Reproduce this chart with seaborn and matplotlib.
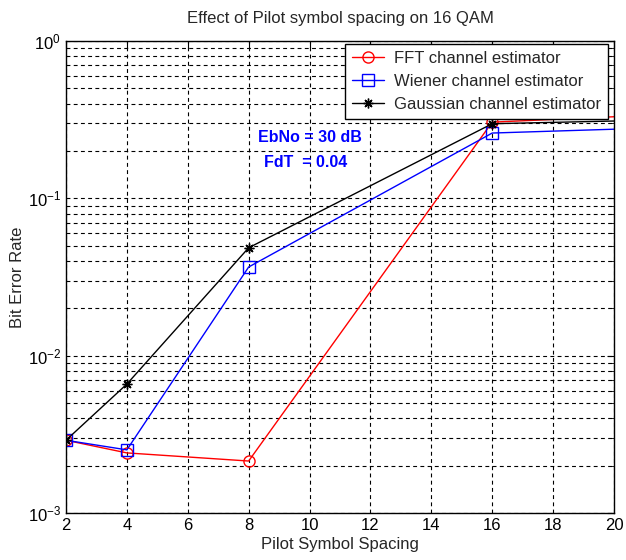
import matplotlib
matplotlib.use("Agg")
import matplotlib.pyplot as plt
import seaborn as sns
import pandas as pd
from matplotlib.ticker import LogLocator, FixedLocator

spacing = [2, 4, 8, 16, 20]
ber_fft = [2.9e-3, 2.41e-3, 2.14e-3, 0.305, 0.33]
ber_wiener = [2.9e-3, 2.52e-3, 0.0366, 0.26, 0.275]
ber_gauss = [2.9e-3, 6.6e-3, 0.0485, 0.298, 0.31]
series_names = ["FFT channel estimator", "Wiener channel estimator",
                "Gaussian channel estimator"]
x_ticks = [2, 4, 6, 8, 10, 12, 14, 16, 18, 20]

sns.set_style("white")
plt.rcParams["font.family"] = ["Liberation Sans", "DejaVu Sans"]
plt.rcParams["mathtext.fontset"] = "custom"
plt.rcParams["mathtext.rm"] = "Liberation Sans"

fig = plt.figure(figsize=(6.26, 5.6), dpi=100)
ax = fig.add_axes([0.1054, 0.0839, 0.8754, 0.8429])

styles = [
    (ber_fft, "red", "o", 8, "none"),
    (ber_wiener, "blue", "s", 8, "none"),
    (ber_gauss, "black", (8, 2, 0), 7, "black"),
]
for name, (vals, color, marker, ms, face) in zip(series_names, styles):
    df = pd.DataFrame({"x": spacing, "y": vals})
    sns.lineplot(data=df, x="x", y="y", ax=ax, color=color, marker=marker,
                 markersize=ms, markerfacecolor=face, markeredgecolor=color,
                 markeredgewidth=1.0, linewidth=1.0, label=name,
                 markevery=[0, 1, 2, 3])

ax.set_yscale("log")
ax.set_xlim(2, 20)
ax.set_ylim(1e-3, 1)
ax.xaxis.set_major_locator(FixedLocator(x_ticks))
ax.yaxis.set_major_locator(LogLocator(base=10, numticks=10))
ax.yaxis.set_minor_locator(LogLocator(base=10, subs=range(2, 10), numticks=20))

grid_kw = dict(color="black", linestyle=(0, (3.5, 3)), linewidth=0.8)
ax.grid(True, which="major", axis="both", **grid_kw)
ax.grid(True, which="minor", axis="y", **grid_kw)

ax.tick_params(which="both", direction="in", top=True, right=True,
               labelsize=12, colors="black")
ax.tick_params(which="major", length=5)
ax.tick_params(which="minor", length=3)
for sp in ax.spines.values():
    sp.set_color("black")
    sp.set_linewidth(1.0)

ax.set_title("Effect of Pilot symbol spacing on 16 QAM", fontsize=12, pad=13)
ax.set_xlabel("Pilot Symbol Spacing", fontsize=12, labelpad=3)
ax.set_ylabel("Bit Error Rate", fontsize=12, labelpad=2)

ax.text(8.3, 0.242, "EbNo = 30 dB", color="blue", fontsize=11.5,
        fontweight="bold", va="center")
ax.text(8.5, 0.17, "FdT  = 0.04", color="blue", fontsize=11.5,
        fontweight="bold", va="center")

leg = ax.legend(loc="upper right", fontsize=12, frameon=True, fancybox=False,
                framealpha=1, edgecolor="black", borderpad=0.42,
                labelspacing=0.48, handlelength=1.9, handletextpad=0.6,
                borderaxespad=0, bbox_to_anchor=(0.989, 0.9936))
leg.get_frame().set_linewidth(1.0)
leg.set_zorder(5)

fig.savefig("out.png", dpi=100)
